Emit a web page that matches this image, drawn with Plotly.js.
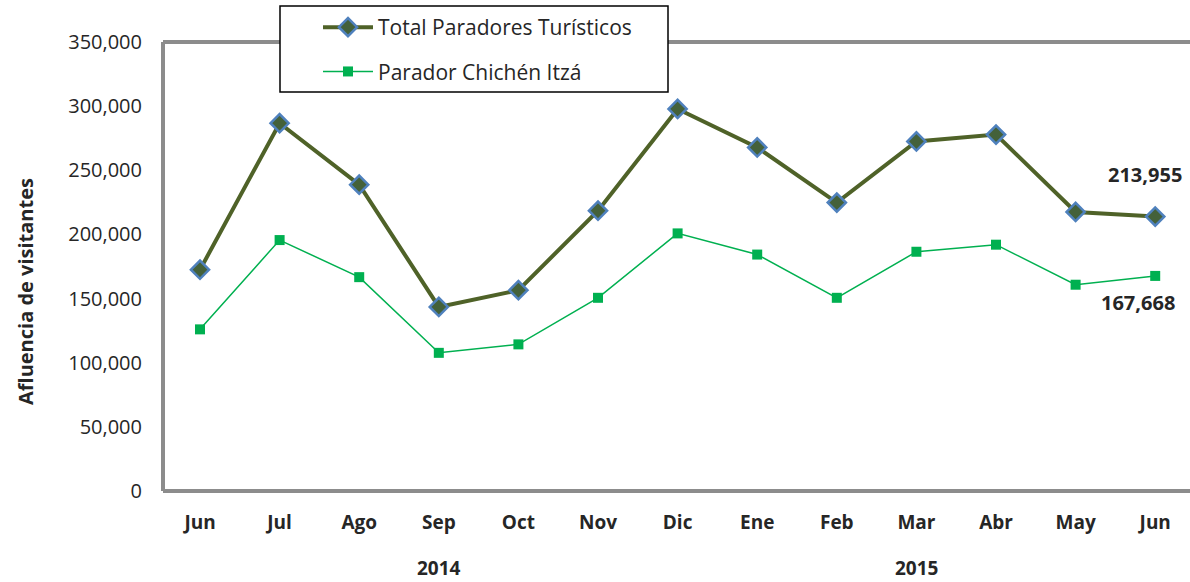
<!DOCTYPE html>
<html>
<head>
<meta charset="utf-8">
<script src="https://cdn.plot.ly/plotly-3.0.1.min.js"></script>
<style>html,body{margin:0;padding:0;background:#fff;}#chart{width:1190px;height:582px;}</style>
</head>
<body>
<div id="chart"></div>
<script>
const months = ["Jun","Jul","Ago","Sep","Oct","Nov","Dic","Ene","Feb","Mar","Abr","May","Jun"];
const years = [{label:"2014", at:3}, {label:"2015", at:9}];
const totalParadores = [172500, 286700, 238800, 143500, 156500, 218500, 297800, 267800, 224800, 272500, 277800, 217500, 213955];
const chichenItza = [126000, 195600, 166700, 107700, 114300, 150600, 200800, 184300, 150600, 186500, 192000, 160800, 167668];
const seriesNames = ["Total Paradores Turísticos", "Parador Chichén Itzá"];
const yTicks = [0, 50000, 100000, 150000, 200000, 250000, 300000, 350000];

const idx = months.map((m, i) => i);
const FONT = "Open Sans, Liberation Sans, sans-serif";
const TXT = "#262626";

const traces = [
  {
    x: idx, y: totalParadores, name: seriesNames[0], type: "scatter", mode: "lines+markers",
    legendgroup: "a",
    line: {color: "#4F6228", width: 4},
    marker: {symbol: "diamond", size: 14, color: "#44613a", line: {color: "#4F81BD", width: 2.5}}
  },
  {
    x: idx, y: chichenItza, name: seriesNames[1], type: "scatter", mode: "lines+markers",
    legendgroup: "b",
    line: {color: "#00B050", width: 1.5},
    marker: {symbol: "square", size: 10, color: "#00B050"}
  }
];

const last = months.length - 1;
const annotations = [
  {xref: "paper", yref: "paper", x: (25-163)/1027, y: (491-292)/449, xanchor: "center", yanchor: "middle",
   text: "Afluencia de visitantes", textangle: -90,
   showarrow: false, font: {family: FONT, size: 20, color: TXT, weight: "bold"}},
  {xref: "x", yref: "y", x: last, y: totalParadores[last], text: totalParadores[last].toLocaleString("en-US"),
   showarrow: false, xshift: -10, yshift: 42, font: {family: FONT, size: 20, color: TXT, weight: "bold"}},
  {xref: "x", yref: "y", x: last, y: chichenItza[last], text: chichenItza[last].toLocaleString("en-US"),
   showarrow: false, xshift: -17, yshift: -27, font: {family: FONT, size: 20, color: TXT, weight: "bold"}}
].concat(years.map(yr => ({
  xref: "x", yref: "paper", x: yr.at, y: (491-568)/449, xanchor: "center", yanchor: "middle",
  text: yr.label, showarrow: false,
  font: {family: FONT, size: 19, color: TXT, weight: "bold"}
})));

const frameCol = "#8c8c8c";
const shapes = [
  {type: "line", xref: "paper", yref: "paper", x0: 0, x1: 0, y0: 0, y1: 1, line: {color: frameCol, width: 4}},
  {type: "line", xref: "paper", yref: "paper", x0: 0, x1: 1.05, y0: 1, y1: 1, line: {color: frameCol, width: 4}},
  {type: "line", xref: "paper", yref: "paper", x0: 0, x1: 1.05, y0: 0, y1: 0, line: {color: frameCol, width: 4}},
  {type: "rect", xref: "paper", yref: "paper", x0: (280-163)/1027, x1: (668-163)/1027,
   y0: (491-92)/449, y1: (491-6)/449, fillcolor: "#ffffff", line: {color: "#000000", width: 1.5}}
];

const layout = {
  width: 1190, height: 582,
  margin: {l: 163, r: 0, t: 42, b: 91},
  paper_bgcolor: "#ffffff", plot_bgcolor: "#ffffff",
  showlegend: true,
  legend: {
    x: (318-163)/1027, y: (491-7)/449, xanchor: "left", yanchor: "top",
    bgcolor: "rgba(0,0,0,0)", borderwidth: 0,
    font: {family: FONT, size: 21, color: TXT},
    traceorder: "grouped", tracegroupgap: 14, itemwidth: 50
  },
  xaxis: {
    range: [-0.465, 12.437], tickvals: idx, ticktext: months,
    showgrid: false, zeroline: false, showline: false, ticks: "",
    tickfont: {family: FONT, size: 19, color: TXT, weight: "bold"},
    ticklabelstandoff: 18
  },
  yaxis: {
    range: [0, 350000], tickvals: yTicks, ticktext: yTicks.map(v => v.toLocaleString("en-US")),
    showgrid: false, zeroline: false, showline: false, ticks: "",
    tickfont: {family: FONT, size: 20, color: TXT},
    ticklabelstandoff: 20
  },
  annotations: annotations,
  shapes: shapes
};

Plotly.newPlot("chart", traces, layout, {displayModeBar: false, staticPlot: true});
</script>
</body>
</html>
